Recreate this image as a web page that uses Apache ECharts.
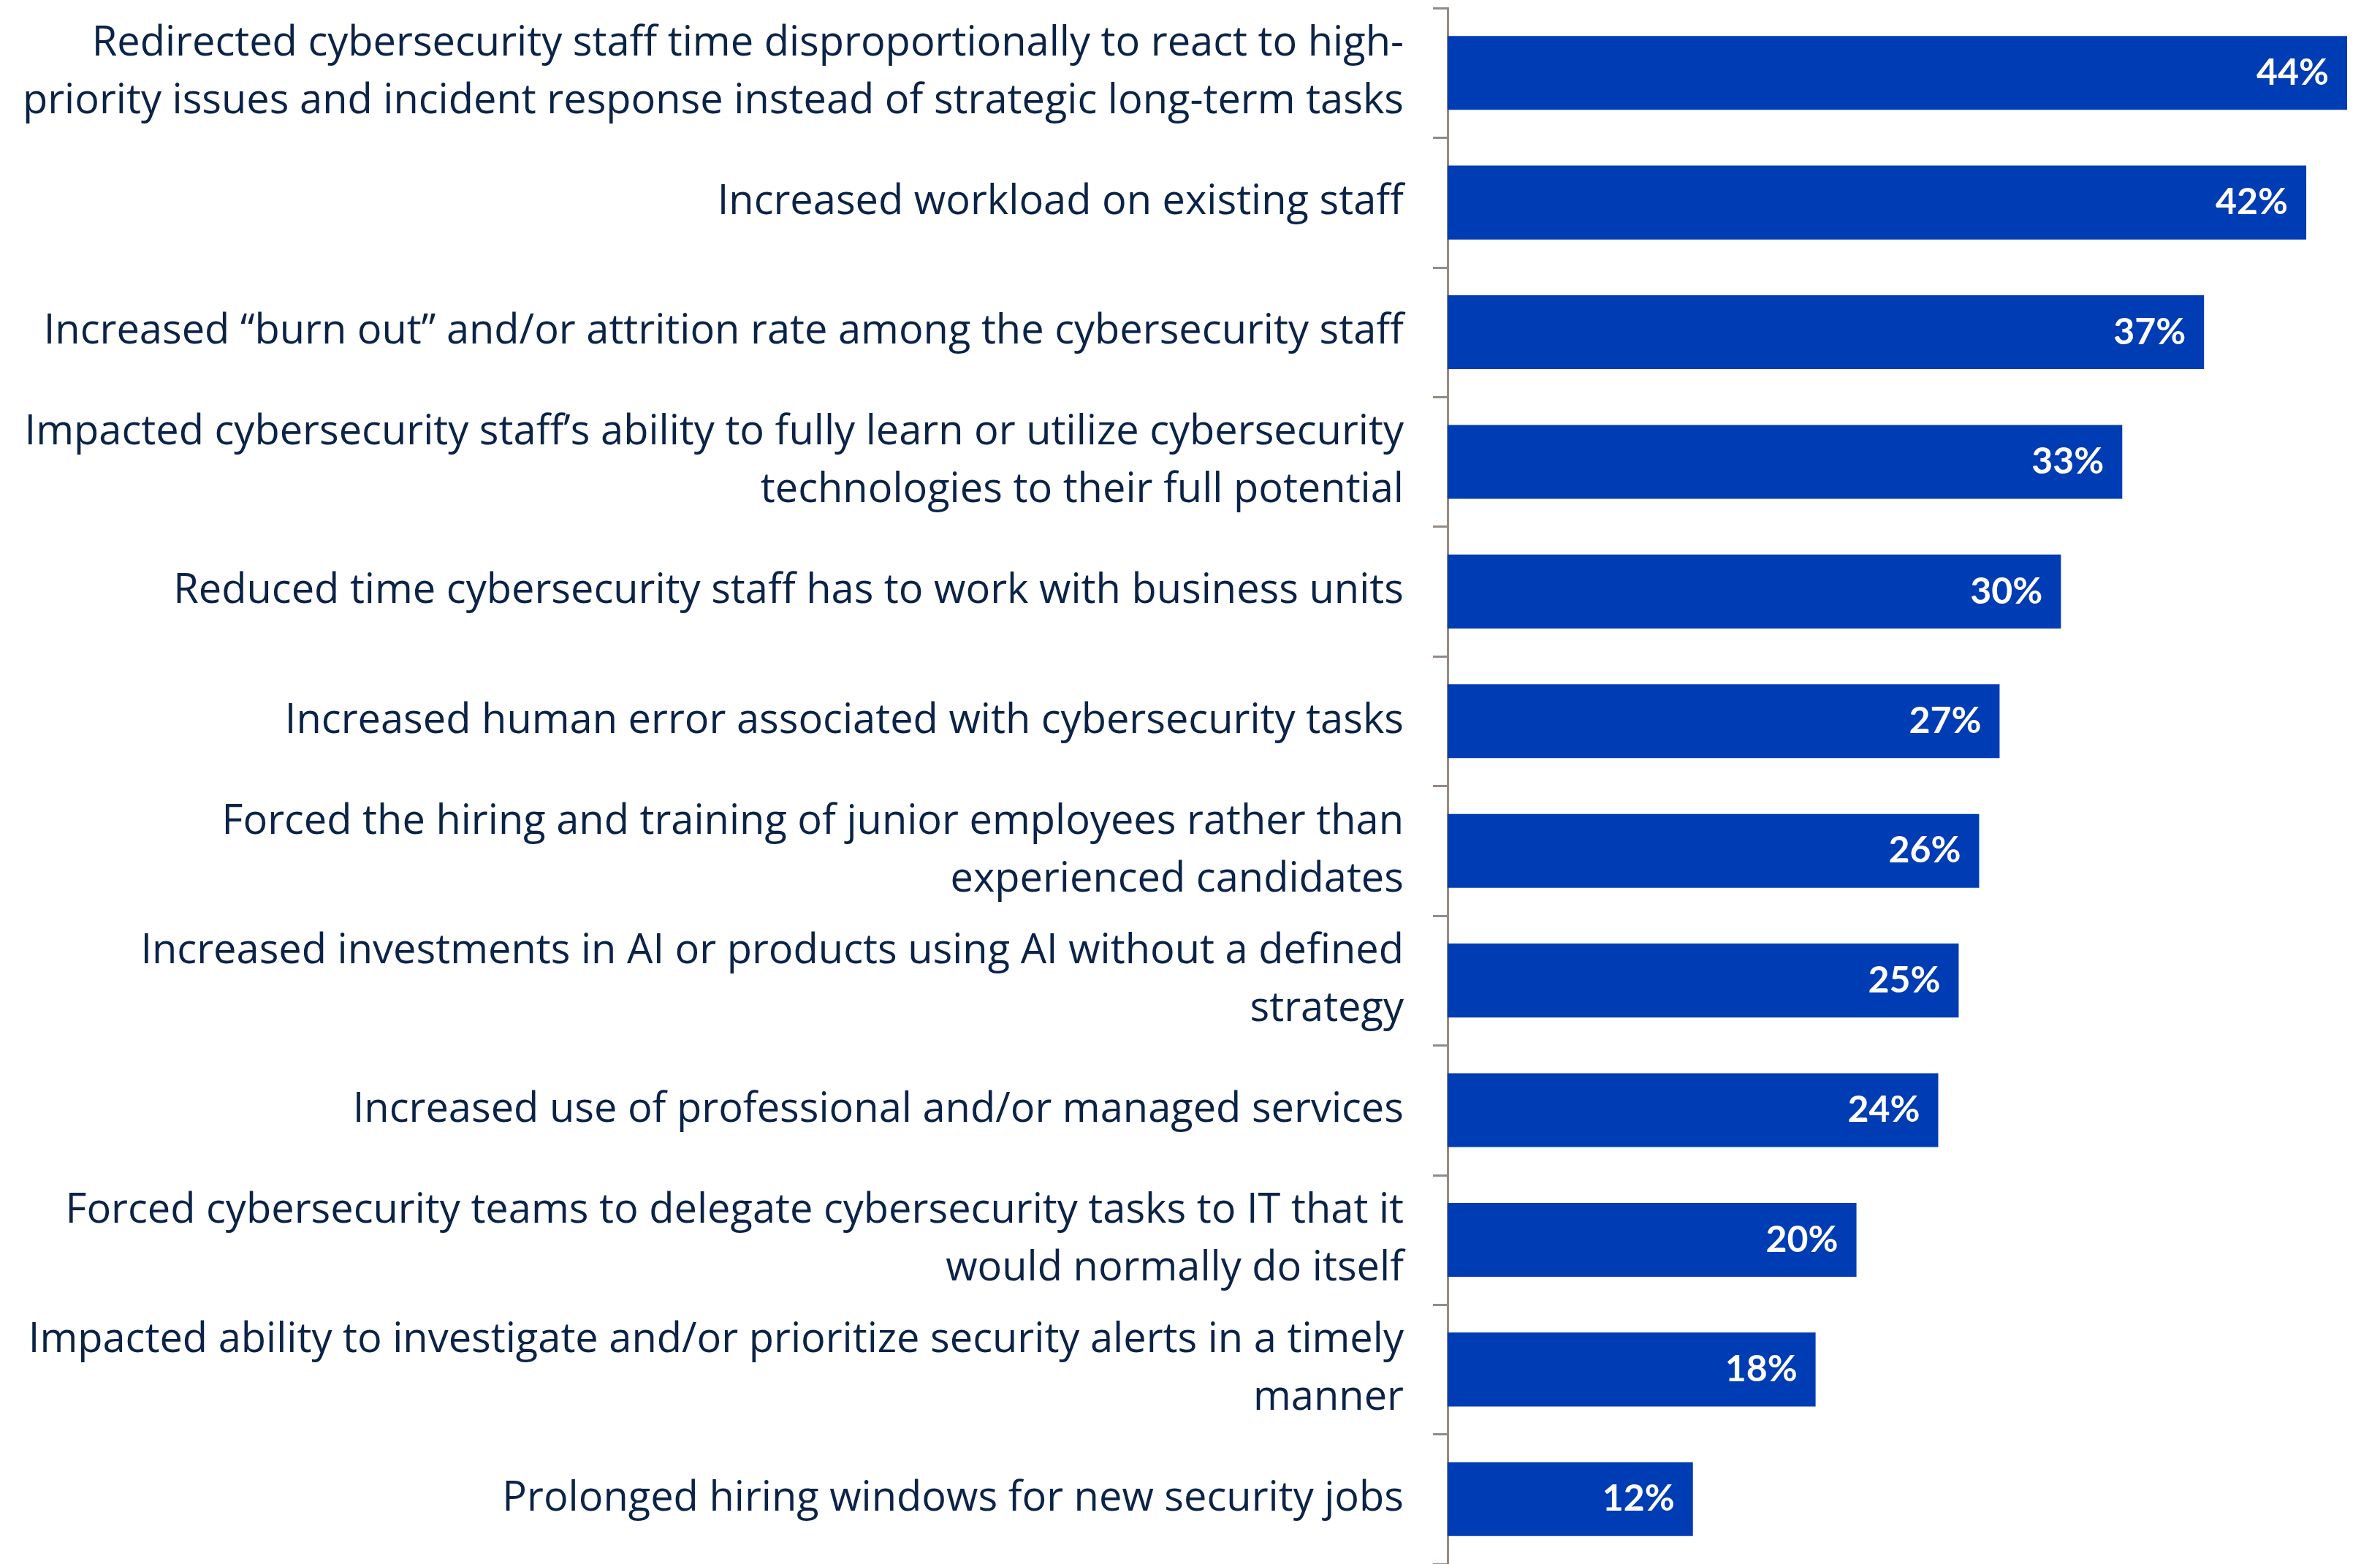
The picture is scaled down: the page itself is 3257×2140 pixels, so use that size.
<!DOCTYPE html>
<html>
<head>
<meta charset="utf-8">
<script src="https://cdn.jsdelivr.net/npm/echarts@6/dist/echarts.min.js"></script>
<style>
  html, body { margin: 0; padding: 0; background: #ffffff; }
  #chart { width: 3257px; height: 2140px; }
</style>
</head>
<body>
<div id="chart"></div>
<script>
// Impacts of the cybersecurity skills shortage (share of respondents, %)
const categories = [
  'Redirected cybersecurity staff time disproportionally to react to high-\npriority issues and incident response instead of strategic long-term tasks',
  'Increased workload on existing staff',
  'Increased \u201cburn out\u201d and/or attrition rate among the cybersecurity staff',
  'Impacted cybersecurity staff\u2019s ability to fully learn or utilize cybersecurity\ntechnologies to their full potential',
  'Reduced time cybersecurity staff has to work with business units',
  'Increased human error associated with cybersecurity tasks',
  'Forced the hiring and training of junior employees rather than\nexperienced candidates',
  'Increased investments in AI or products using AI without a defined\nstrategy',
  'Increased use of professional and/or managed services',
  'Forced cybersecurity teams to delegate cybersecurity tasks to IT that it\nwould normally do itself',
  'Impacted ability to investigate and/or prioritize security alerts in a timely\nmanner',
  'Prolonged hiring windows for new security jobs'
];
const values = [44, 42, 37, 33, 30, 27, 26, 25, 24, 20, 18, 12];

const chart = echarts.init(document.getElementById('chart'), null, { renderer: 'canvas' });

chart.setOption({
  animation: false,
  backgroundColor: '#ffffff',
  grid: { left: 1981, right: 3, top: 11, bottom: -7, containLabel: false },
  xAxis: {
    type: 'value',
    min: 0,
    max: 45.5,
    show: false
  },
  yAxis: {
    type: 'category',
    data: categories,
    inverse: true,
    axisLine: { show: true, lineStyle: { color: '#958a82', width: 3 } },
    axisTick: { show: true, length: 20, lineStyle: { color: '#958a82', width: 3 } },
    axisLabel: {
      margin: 60,
      color: '#0b2347',
      fontFamily: 'Open Sans',
      fontSize: 56,
      lineHeight: 79,
      align: 'right'
    },
    splitLine: { show: false }
  },
  series: [{
    type: 'bar',
    data: values,
    barCategoryGap: '43%',
    itemStyle: { color: '#003cb3' },
    label: {
      show: true,
      position: 'insideRight',
      distance: 25,
      color: '#ffffff',
      fontFamily: 'Lato',
      fontWeight: 'bold',
      fontSize: 50,
      formatter: p => p.value + '%'
    }
  }]
});
</script>
</body>
</html>
